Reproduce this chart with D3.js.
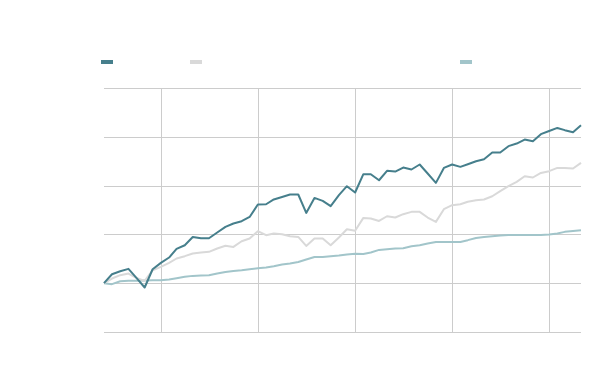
<!DOCTYPE html>
<html>
<head>
<meta charset="utf-8">
<script src="https://cdn.jsdelivr.net/npm/d3@7"></script>
<style>
  body { margin: 0; background: #fff; }
  svg { display: block; }
</style>
</head>
<body>
<svg width="600" height="371"></svg>
<script>
// monthly points, Jun 2014 .. May 2019
const startMonth = new Date(2014, 5, 1);
const months = d3.range(60).map(i => d3.timeMonth.offset(startMonth, i));

const seriesDark = [0, 9.2, 12.3, 14.7, 5.5, -4.4, 14.3, 20.8, 26.3, 35.1,
  38.9, 47.4, 46.1, 46.1, 51.9, 57.7, 61.2, 63.5, 67.9, 80.6,
  80.9, 85.8, 88.4, 90.9, 90.9, 72.0, 87.4, 84.3, 78.9, 90.2,
  99.4, 92.9, 111.7, 111.7, 105.5, 115.1, 114.4, 118.5, 116.5, 121.6,
  112.4, 102.8, 118.1, 121.6, 119.2, 121.9, 125, 127, 133.9, 133.9,
  140.4, 143.1, 147.2, 145.5, 152.7, 156, 159.1, 156.8, 154.7, 161.9];

const seriesGrey = [0, 4.8, 8.2, 9.9, 5.4, 2.4, 13.3, 16.7, 20.8, 25.3,
  27.7, 30.4, 31.5, 32.1, 35.6, 38.4, 37.2, 43, 45.8, 53.3,
  49.2, 50.9, 50.2, 48.2, 47.4, 38.2, 45.8, 45.8, 38.9, 46.8,
  55.3, 53.8, 66.9, 66.3, 63.8, 68.6, 67.3, 70.7, 73.1, 73.1,
  67.3, 62.8, 75.8, 79.9, 80.9, 83.5, 85, 85.8, 89.1, 94.3,
  99.4, 103.8, 109.6, 108.3, 113, 114.8, 118.1, 118.1, 117.5, 123.3];

const seriesTeal = [0, -1, 2, 2.4, 2.4, 2.8, 3.1, 3.1, 3.8, 5.1,
  6.5, 7.5, 7.9, 8.2, 9.9, 11.5, 12.6, 13.3, 14.3, 15.4,
  16.1, 17.4, 19.2, 20.2, 21.8, 24.3, 26.9, 26.9, 27.7, 28.4,
  29.4, 30.2, 30, 31.5, 34.1, 34.8, 35.6, 35.9, 37.9, 38.9,
  40.7, 42.3, 42.3, 42.3, 42.3, 44.1, 46.4, 47.4, 48.2, 48.9,
  49.5, 49.5, 49.5, 49.5, 49.5, 49.9, 50.9, 52.6, 53.6, 54.3];

const yTicks = [-50, 0, 50, 100, 150, 200];
const xTicks = [2015, 2016, 2017, 2018, 2019].map(y => new Date(y, 0, 1));

const darkColor = '#467f8c';
const greyColor = '#d9d9d9';
const tealColor = '#a2c5ca';
const gridColor = '#cccccc';

const svg = d3.select('svg');
const margin = { top: 88, right: 19, bottom: 39, left: 104 };
const width = +svg.attr('width');
const height = +svg.attr('height');

const x = d3.scaleTime()
  .domain([months[0], months[months.length - 1]])
  .range([margin.left, width - margin.right]);
const y = d3.scaleLinear()
  .domain([-50, 200])
  .range([height - margin.bottom, margin.top]);

// grid
const grid = svg.append('g').attr('class', 'grid');
grid.selectAll('line.h').data(yTicks).enter()
  .append('line')
  .attr('class', 'h')
  .attr('x1', x.range()[0])
  .attr('x2', x.range()[1])
  .attr('y1', d => Math.round(y(d)) + 0.5)
  .attr('y2', d => Math.round(y(d)) + 0.5)
  .attr('stroke', gridColor)
  .attr('stroke-width', 1);

grid.selectAll('line.v').data(xTicks).enter()
  .append('line')
  .attr('class', 'v')
  .attr('x1', d => Math.round(x(d)) + 0.5)
  .attr('x2', d => Math.round(x(d)) + 0.5)
  .attr('y1', y(200))
  .attr('y2', y(-50))
  .attr('stroke', gridColor)
  .attr('stroke-width', 1);

// lines
const line = d3.line()
  .x((d, i) => x(months[i]))
  .y(d => y(d));

const series = [
  { values: seriesTeal, color: tealColor },
  { values: seriesGrey, color: greyColor },
  { values: seriesDark, color: darkColor }
];

svg.append('g').attr('class', 'lines')
  .selectAll('path').data(series).enter()
  .append('path')
  .attr('d', d => line(d.values))
  .attr('fill', 'none')
  .attr('stroke', d => d.color)
  .attr('stroke-width', 2)
  .attr('stroke-linejoin', 'round');

// legend swatches
const legend = [
  { color: darkColor, x: 101 },
  { color: greyColor, x: 190 },
  { color: tealColor, x: 460 }
];
svg.append('g').attr('class', 'legend')
  .selectAll('rect').data(legend).enter()
  .append('rect')
  .attr('x', d => d.x)
  .attr('y', 60)
  .attr('width', 12)
  .attr('height', 4)
  .attr('fill', d => d.color);
</script>
</body>
</html>
